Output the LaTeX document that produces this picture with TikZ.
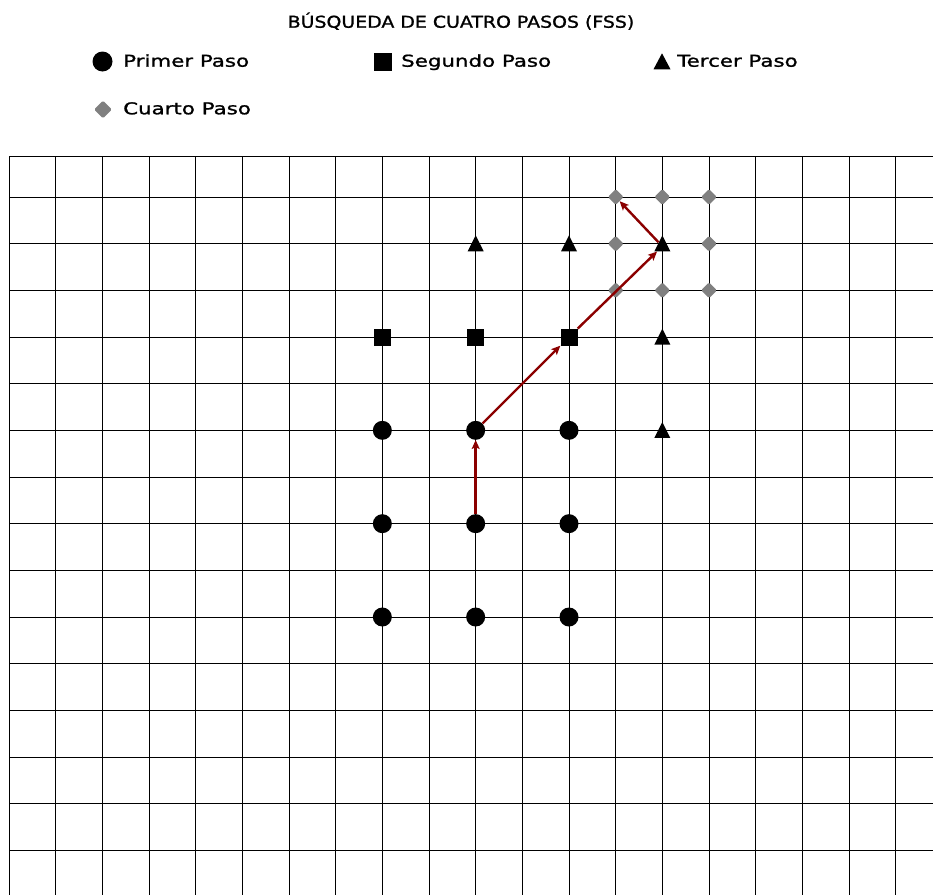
\documentclass[tikz,border=0pt]{standalone}
\usepackage{fontspec}
\usetikzlibrary{shapes.geometric,arrows.meta}
\newfontfamily\titlefont[FakeStretch=1.16,FakeBold=1.2]{DejaVu Sans}
\newfontfamily\legfont[FakeStretch=1.31,FakeBold=1.2]{DejaVu Sans}
\definecolor{arrowred}{RGB}{139,0,0}
\definecolor{markgrey}{RGB}{128,128,128}
\tikzset{
  gridline/.style={draw=black,line width=1pt},
  dotmark/.style={circle,fill=black,inner sep=0pt,minimum size=19pt},
  sqmark/.style={rectangle,fill=black,inner sep=0pt,minimum size=17pt},
  trimark/.style={isosceles triangle,isosceles triangle stretches,shape border rotate=90,fill=black,inner sep=0pt,minimum width=16pt,minimum height=16pt,yshift=-2.7pt},
  diamark/.style={diamond,fill=markgrey,inner sep=0pt,minimum size=16pt,rounded corners=1.5pt},
  steparrow/.style={draw=arrowred,line width=2.4pt,-{Stealth[length=9pt,width=8pt,inset=2pt]}},
  legtext/.style={anchor=base west,inner sep=0pt,font=\legfont\fontsize{16.3}{19}\selectfont},
}
\begin{document}
\begin{tikzpicture}[x=1pt,y=-1pt]
\useasboundingbox (0,0) rectangle (933,894);
% title and legend
\node[anchor=base,inner sep=0pt,font=\titlefont\fontsize{16.3}{19}\selectfont] (title) at (461,27.7) {BÚSQUEDA DE CUATRO PASOS (FSS)};
\node[dotmark,minimum size=20pt] (l1m) at (102.5,61.5) {};
\node[legtext] (l1t) at (123,66.7) {Primer Paso};
\node[sqmark,minimum size=18pt] (l2m) at (382.5,62) {};
\node[legtext] (l2t) at (401,66.7) {Segundo Paso};
\node[trimark,minimum width=17pt,minimum height=16pt] (l3m) at (662,61.5) {};
\node[legtext] (l3t) at (677,66.7) {Tercer Paso};
\node[diamark,minimum size=18pt] (l4m) at (103,109.5) {};
\node[legtext] (l4t) at (123,114.3) {Cuarto Paso};
\begin{scope}[shift={(9,197)},x=46.667pt,y=-46.667pt]
  % grid
  \foreach \k in {0,...,19} \draw[gridline] (\k,-0.8786) -- (\k,15);
  \foreach \j in {0,...,14} \draw[gridline] (0,\j) -- (19.9,\j);
  \draw[gridline] (0,-0.8786) -- (19.9,-0.8786);
  % first step
  \foreach \k in {8,10,12} \foreach \j in {5,7,9}
    \node[dotmark] (c-\k-\j) at (\k,\j) {};
  % second step
  \foreach \k in {8,10,12}
    \node[sqmark] (s-\k-3) at (\k,3) {};
  % third step
  \foreach \k/\j in {10/1,12/1,14/1,14/3,14/5}
    \node[trimark] (t-\k-\j) at (\k,\j) {};
  % fourth step
  \foreach \k/\j in {13/0,14/0,15/0,13/1,15/1,13/2,14/2,15/2}
    \node[diamark] (d-\k-\j) at (\k,\j) {};
\end{scope}
% path
\draw[steparrow] (c-10-7) -- (c-10-5);
\draw[steparrow] (c-10-5) -- (s-12-3);
\draw[steparrow] (s-12-3) -- (t-14-1);
\draw[steparrow] (t-14-1) -- (d-13-0);
\end{tikzpicture}
\end{document}
